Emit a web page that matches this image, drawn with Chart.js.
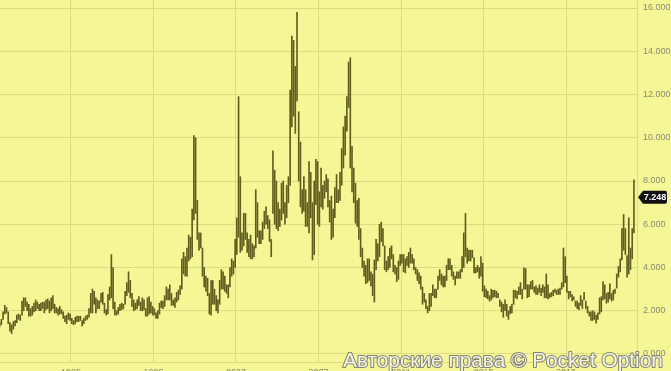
<!DOCTYPE html>
<html><head><meta charset="utf-8">
<script src="https://cdn.jsdelivr.net/npm/chart.js@4"></script>
<style>
html,body{margin:0;padding:0;width:671px;height:371px;overflow:hidden;background:#f5f696;}
#wrap{position:relative;width:671px;height:378px;}
canvas{display:block;}
</style></head><body>
<div id="wrap"><canvas id="c" width="671" height="378"></canvas></div>
<script>
// Monthly high/low, starting July 1991
const startYear = 1991, startMonth = 7;
const monthlyHigh = [
  1.45,1.6,1.95,2.25,2.15,1.95,
  1.45,1.35,1.5,1.55,1.8,1.85,1.8,2.45,2.6,2.6,2.4,2.3,
  2.1,2.2,2.35,2.5,2.4,2.3,2.35,2.4,2.4,2.5,2.55,2.45,
  2.6,2.7,2.3,2.15,2.1,2.2,2.05,1.95,1.75,1.8,1.9,1.85,
  1.65,1.55,1.7,1.75,1.75,1.75,1.55,1.65,1.75,1.8,2.1,2.8,
  3.0,2.9,2.6,2.5,2.45,2.8,2.85,2.35,2.05,2.75,3.1,4.6,
  4.0,2.4,2.0,2.15,2.3,2.35,2.3,2.9,3.3,3.8,3.4,2.8,
  2.5,2.35,2.5,2.65,2.4,2.6,2.5,2.1,2.6,2.65,2.4,2.2,
  2.1,1.9,2.0,2.35,2.45,2.45,2.7,3.1,3.0,3.2,2.8,2.5,
  2.6,2.85,2.95,3.15,4.4,4.7,4.5,4.9,5.5,5.4,6.7,10.1,
  10.0,7.1,5.6,5.6,4.9,4.0,3.6,3.5,2.8,3.4,3.4,3.0,
  2.7,2.5,3.4,3.9,3.8,3.6,3.2,3.2,4.0,4.4,4.3,5.3,
  6.3,11.9,8.2,5.6,6.5,6.5,5.6,5.3,5.5,5.1,5.0,7.6,
  7.0,5.7,5.7,6.1,6.6,6.8,6.4,6.2,5.3,9.4,8.5,8.0,
  7.0,6.7,7.9,8.0,7.0,7.8,8.2,12.2,14.7,14.5,13.3,15.8,
  11.2,9.8,7.6,8.2,7.6,7.0,8.9,8.4,7.0,8.0,9.0,8.9,
  7.5,8.6,7.8,8.0,8.3,8.1,7.1,7.3,6.7,7.7,8.3,7.6,
  8.4,9.5,10.5,11.0,11.9,13.5,13.7,9.6,8.6,7.9,7.1,7.2,
  5.8,4.9,4.3,4.1,4.4,4.4,3.8,3.7,4.35,5.3,5.1,6.0,
  6.1,5.8,5.0,4.3,4.5,4.9,5.0,4.6,4.1,4.0,4.3,4.6,
  4.6,4.6,4.4,4.5,4.7,4.9,4.6,4.4,4.0,3.9,3.75,3.6,
  3.1,2.8,2.5,2.2,2.8,2.8,3.2,3.0,3.0,3.6,3.9,3.7,
  3.6,3.6,4.1,4.4,4.4,4.1,3.8,3.6,3.8,3.8,3.9,4.5,
  5.6,6.5,4.9,4.8,4.8,4.8,4.45,4.0,4.1,4.0,4.5,4.2,
  3.15,3.0,2.9,2.7,3.0,2.95,2.95,2.9,2.8,2.5,2.4,2.3,
  2.5,2.3,2.0,2.2,2.3,2.95,2.95,2.9,3.1,3.3,3.0,3.99,
  3.95,3.2,3.2,3.35,3.4,3.1,3.15,3.05,3.2,3.05,3.2,3.1,
  3.7,3.2,2.8,2.85,2.95,3.0,2.95,3.0,3.05,3.3,4.9,4.5,
  3.6,2.9,2.9,2.75,2.65,2.45,2.45,2.35,2.7,2.5,2.85,2.45,
  2.2,1.95,1.95,2.0,1.95,1.8,1.9,2.6,2.65,3.35,3.2,2.8,
  2.85,3.25,2.8,2.95,3.0,3.7,4.05,4.4,5.8,6.45,5.8,4.55,
  6.3,4.9,5.8,8.05
];
const monthlyLow = [
  1.25,1.35,1.6,1.85,1.9,1.4,
  1.05,0.95,1.15,1.3,1.45,1.6,1.55,1.8,2.0,2.2,2.0,1.75,
  1.75,1.8,1.95,2.0,2.1,2.0,2.0,2.1,1.9,2.05,2.1,1.9,
  2.0,2.1,1.9,1.9,1.8,1.85,1.85,1.65,1.5,1.4,1.6,1.55,
  1.4,1.35,1.4,1.5,1.5,1.55,1.3,1.4,1.55,1.6,1.7,1.9,
  1.9,2.3,1.9,2.1,2.1,2.4,2.3,1.9,1.8,1.85,2.5,2.6,
  2.1,1.8,1.8,1.85,2.0,2.05,2.1,2.3,2.7,2.85,2.6,2.2,
  2.0,2.05,2.1,2.25,2.0,2.0,2.05,1.75,1.75,1.85,1.9,1.8,
  1.8,1.65,1.65,1.85,2.15,2.1,2.2,2.5,2.5,2.5,2.25,2.25,
  2.15,2.4,2.5,2.75,3.0,3.7,3.6,3.6,4.3,4.4,4.5,6.2,
  6.5,5.3,4.8,4.9,3.6,3.1,2.9,2.7,1.85,1.8,2.3,2.3,
  2.0,1.9,2.3,3.0,3.0,2.9,2.8,2.6,3.1,3.6,3.7,4.0,
  4.6,5.4,4.7,4.8,5.0,5.3,4.7,4.5,4.4,4.4,4.5,4.9,
  5.4,5.1,5.1,5.3,5.8,6.0,5.8,5.2,4.5,6.5,6.0,5.8,
  5.7,5.9,6.2,6.5,6.0,6.3,7.0,7.8,10.5,11.0,10.2,11.7,
  8.0,6.8,6.5,6.6,5.9,5.9,5.6,6.3,4.35,4.6,6.9,6.0,
  5.9,6.8,6.7,7.2,7.5,6.8,6.1,5.3,5.4,6.3,7.0,7.0,
  7.1,7.8,8.6,9.2,10.3,11.4,8.6,7.5,7.0,6.05,5.9,5.3,
  4.5,4.0,3.6,3.25,3.3,3.4,3.15,2.7,2.4,3.9,4.3,4.5,
  5.2,5.0,3.9,3.8,3.9,4.0,4.4,3.8,3.7,3.35,3.45,4.1,
  4.2,3.8,3.75,4.1,4.0,4.2,4.2,3.9,3.7,3.4,3.25,3.0,
  2.3,2.4,2.1,1.9,2.0,2.2,2.7,2.6,2.6,3.0,3.4,3.2,
  3.1,3.1,3.4,3.9,3.9,3.6,3.45,3.2,3.5,3.5,3.5,3.8,
  4.0,4.5,4.2,4.3,4.3,4.45,3.75,3.75,3.8,3.5,3.6,2.9,
  2.65,2.6,2.55,2.45,2.5,2.6,2.65,2.6,2.6,2.2,1.95,1.7,
  2.0,1.75,1.6,1.85,1.9,2.3,2.6,2.55,2.75,2.75,2.55,3.0,
  3.0,2.6,2.65,3.0,3.0,2.85,2.75,2.75,2.85,2.7,2.85,2.6,
  2.6,2.55,2.6,2.65,2.7,2.85,2.75,2.75,2.75,3.0,3.1,3.3,
  2.85,2.55,2.65,2.45,2.5,2.2,2.1,2.05,2.25,2.1,2.5,2.1,
  1.9,1.75,1.55,1.55,1.6,1.43,1.6,1.85,1.95,2.5,2.55,2.35,
  2.4,2.55,2.45,2.5,2.8,3.05,3.55,3.8,4.35,4.8,4.6,3.55,
  3.7,3.9,4.4,5.6
];
const yearTicks = [1995, 1999, 2003, 2007, 2011, 2015, 2019];
const priceTicks = [0, 2, 4, 6, 8, 10, 12, 14, 16];
const lastPrice = 7.248;
const watermark = 'Авторские права © Pocket Option';

const points = monthlyHigh.map((h, i) => ({
  x: startYear + (startMonth - 1 + i + 0.5) / 12,
  y: [monthlyLow[i], h]
}));

const gridColor = '#dcdc84';
const tickColor = '#8c8c74';

const overlay = {
  id: 'overlay',
  afterDraw(chart) {
    const ctx = chart.ctx;
    const ca = chart.chartArea;
    const y = chart.scales.y.getPixelForValue(lastPrice);
    const x0 = ca.right + 1;
    ctx.save();
    ctx.fillStyle = '#111';
    ctx.beginPath();
    ctx.moveTo(x0, y);
    ctx.lineTo(x0 + 5, y - 6.5);
    ctx.lineTo(x0 + 27, y - 6.5);
    ctx.quadraticCurveTo(x0 + 29, y - 6.5, x0 + 29, y - 4.5);
    ctx.lineTo(x0 + 29, y + 4.5);
    ctx.quadraticCurveTo(x0 + 29, y + 6.5, x0 + 27, y + 6.5);
    ctx.lineTo(x0 + 5, y + 6.5);
    ctx.closePath();
    ctx.fill();
    ctx.fillStyle = '#fff';
    ctx.font = 'bold 9px "Liberation Sans", Arial, sans-serif';
    ctx.textAlign = 'center';
    ctx.textBaseline = 'middle';
    ctx.fillText(lastPrice.toFixed(3), x0 + 17, y + 0.5);
    let fs = 24;
    ctx.font = fs + 'px "Liberation Sans", Arial, sans-serif';
    const w = ctx.measureText(watermark).width;
    fs = fs * 320 / w;
    ctx.font = fs + 'px "Liberation Sans", Arial, sans-serif';
    ctx.textAlign = 'left';
    ctx.textBaseline = 'alphabetic';
    ctx.lineJoin = 'round';
    ctx.lineWidth = 2;
    ctx.strokeStyle = 'rgba(120,120,105,0.9)';
    ctx.strokeText(watermark, 343, 367);
    ctx.fillStyle = 'rgba(255,255,250,0.9)';
    ctx.fillText(watermark, 343, 367);
    ctx.restore();
  }
};

new Chart(document.getElementById('c'), {
  type: 'bar',
  data: {
    datasets: [{
      data: points,
      backgroundColor: '#625f1e',
      borderWidth: 0,
      barThickness: 1
    }]
  },
  options: {
    responsive: false,
    animation: false,
    devicePixelRatio: 1,
    layout: { padding: 0 },
    plugins: { legend: { display: false }, tooltip: { enabled: false } },
    scales: {
      x: {
        type: 'linear',
        min: 1991.56,
        max: 2022.44,
        offset: false,
        afterBuildTicks: (axis) => { axis.ticks = yearTicks.map(v => ({ value: v })); },
        afterFit: (axis) => { axis.height = 16; axis.paddingLeft = 0; axis.paddingRight = 0; },
        grid: { color: gridColor, drawTicks: false, offset: false },
        border: { display: true, color: gridColor },
        ticks: {
          color: tickColor, padding: 5, autoSkip: false, maxRotation: 0,
          font: { family: '"Liberation Sans", Arial, sans-serif', size: 9 },
          callback: (v) => String(v)
        }
      },
      y: {
        position: 'right',
        min: -0.37,
        max: 16.37,
        afterBuildTicks: (axis) => { axis.ticks = priceTicks.map(v => ({ value: v })); },
        afterFit: (axis) => { axis.width = 34; axis.paddingTop = 0; axis.paddingBottom = 0; },
        grid: { color: gridColor, drawTicks: false },
        border: { display: true, color: gridColor },
        ticks: {
          color: tickColor, padding: 6,
          font: { family: '"Liberation Sans", Arial, sans-serif', size: 9 },
          callback: (v) => Number(v).toFixed(3)
        }
      }
    }
  },
  plugins: [overlay]
});
</script>
</body></html>
